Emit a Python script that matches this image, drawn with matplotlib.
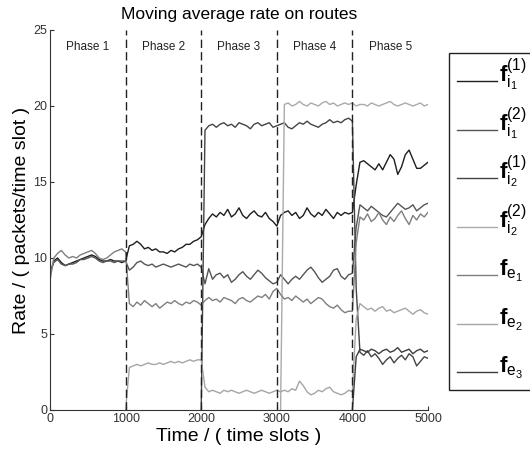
import numpy as np
import matplotlib
matplotlib.use('Agg')
import matplotlib.pyplot as plt
from matplotlib.lines import Line2D
from matplotlib.patches import Rectangle

plt.rcParams['font.family'] = ['Liberation Sans', 'DejaVu Sans']
plt.rcParams['mathtext.fontset'] = 'custom'
plt.rcParams['mathtext.rm'] = 'Liberation Sans'
plt.rcParams['mathtext.bf'] = 'Liberation Sans:bold'
plt.rcParams['mathtext.it'] = 'Liberation Sans'

nan = np.nan

# time grid (time slots), one sample every 50 slots
t = list(range(0, 5001, 50))

# moving average rate per route
# rows: phase 1 (0-950), phase 2 (1000-1950), phase 3, phase 4, phase 5 (4000-5000)
f_i1_1 = [9.0, 9.8, 10.0, 9.7, 9.5, 9.6, 9.7, 9.8, 9.9, 10.0, 10.1, 10.2, 10.1, 9.9, 9.8, 9.8, 9.9, 9.8, 9.8, 9.7,
          9.8, 10.8, 10.9, 11.1, 10.9, 10.6, 10.7, 10.5, 10.6, 10.4, 10.4, 10.3, 10.5, 10.4, 10.6, 10.7, 10.9, 10.9, 11.1, 11.2,
          11.4, 12.2, 12.6, 12.9, 12.7, 13.0, 12.8, 13.2, 12.7, 12.9, 13.3, 12.8, 12.6, 12.9, 13.1, 12.8, 12.7, 13.0, 12.6, 12.4,
          12.1, 12.8, 13.0, 13.1, 12.8, 13.0, 12.6, 12.8, 13.3, 12.9, 12.7, 13.0, 12.8, 13.2, 12.9, 12.6, 13.0, 12.8, 13.0, 12.9,
          13.0, 14.8, 16.3, 16.4, 16.2, 16.0, 15.8, 16.2, 15.8, 16.3, 16.8, 16.5, 15.5, 16.0, 16.8, 17.1, 16.5, 15.9, 15.9, 16.1, 16.3]

f_i1_2 = [9.0, 9.7, 9.9, 9.6, 9.5, 9.6, 9.6, 9.7, 9.9, 9.9, 10.0, 10.1, 10.0, 9.8, 9.7, 9.8, 9.8, 9.7, 9.8, 9.8,
          9.8, 9.2, 9.4, 9.7, 9.8, 9.6, 9.5, 9.6, 9.4, 9.5, 9.6, 9.5, 9.4, 9.5, 9.6, 9.5, 9.4, 9.6, 9.5, 9.6,
          9.4, 8.3, 9.3, 8.6, 8.9, 9.0, 8.7, 8.9, 8.4, 8.6, 8.9, 9.1, 8.8, 8.6, 8.9, 9.2, 9.0, 8.7, 8.5, 8.3,
          8.4, 8.9, 8.6, 8.3, 8.6, 8.8, 8.6, 8.9, 9.2, 9.4, 9.1, 8.7, 8.4, 8.6, 8.8, 9.2, 9.3, 8.8, 8.6, 8.9,
          9.0, 12.0, 13.5, 13.3, 13.1, 13.4, 13.2, 13.0, 12.8, 12.7, 13.0, 13.3, 13.6, 13.4, 13.2, 13.3, 13.5, 13.1, 13.3, 13.5, 13.6]

f_i2_1 = [nan] * 40 + \
         [0.0, 18.4, 18.7, 18.8, 18.6, 18.8, 18.9, 18.7, 18.8, 18.6, 18.9, 18.8, 18.7, 18.5, 18.8, 18.9, 18.7, 18.8, 18.9, 18.6,
          18.7, 18.8, 18.9, 18.6, 18.5, 18.7, 18.9, 18.8, 19.0, 18.8, 18.7, 18.6, 18.8, 18.9, 19.1, 18.9, 19.0, 18.9, 19.1, 19.2,
          19.0, 8.0, 3.8, 3.6, 3.9, 3.5, 3.7, 3.4, 3.0, 3.3, 3.5, 3.1, 3.4, 3.6, 3.3, 3.7, 3.5, 2.9, 3.2, 3.5, 3.4]

f_i2_2 = [nan] * 61 + \
         [0.0, 20.1, 20.2, 20.0, 20.1, 20.3, 20.1, 20.0, 20.2, 20.1, 20.0, 20.2, 20.3, 20.1, 20.2, 20.0, 20.1, 20.2, 20.1,
          20.2, 20.0, 20.1, 20.1, 20.0, 20.2, 20.1, 20.0, 20.1, 20.2, 20.3, 20.1, 20.0, 20.1, 20.2, 20.1, 20.0, 20.1, 20.2, 20.0, 20.1]

f_e1 = [8.5, 10.0, 10.3, 10.5, 10.2, 10.0, 10.1, 10.0, 10.2, 10.3, 10.4, 10.5, 10.3, 10.0, 9.9, 10.0, 10.2, 10.4, 10.5, 10.6,
        10.4, 7.0, 6.8, 7.1, 6.9, 7.2, 7.0, 6.8, 7.0, 6.7, 6.9, 7.1, 7.0, 7.2, 7.0, 6.9, 7.1, 7.0, 7.2, 7.1,
        6.9, 7.2, 7.4, 7.2, 7.3, 7.1, 7.4, 7.3, 7.2, 7.0, 7.3, 7.4, 7.2, 7.1, 7.3, 7.5, 7.4, 7.6, 7.3, 7.8,
        8.0, 7.6, 7.3, 7.4, 7.2, 7.5, 7.3, 7.1, 7.3, 7.0, 7.2, 7.4, 7.3, 7.0, 6.8, 6.7, 6.9, 6.6, 6.4, 6.5,
        6.5, 11.0, 12.7, 12.5, 12.9, 12.4, 12.6, 13.0, 12.5, 12.2, 12.7, 12.4, 12.8, 13.1, 12.6, 12.2, 12.8, 12.5, 12.9, 12.7, 13.0]

f_e2 = [nan] * 20 + \
       [0.0, 2.8, 2.9, 3.0, 2.9, 3.0, 3.1, 3.0, 3.0, 3.1, 3.0, 3.1, 3.2, 3.1, 3.2, 3.1, 3.2, 3.3, 3.2, 3.3,
        3.3, 1.5, 1.2, 1.3, 1.2, 1.1, 1.3, 1.2, 1.3, 1.2, 1.1, 1.2, 1.3, 1.2, 1.1, 1.2, 1.3, 1.2, 1.1, 1.2,
        1.3, 1.2, 1.3, 1.2, 1.4, 1.3, 1.9, 1.6, 1.2, 1.0, 1.1, 1.3, 1.2, 1.4, 1.5, 1.2, 1.1, 1.0, 1.1, 1.3,
        1.2, 6.0, 7.0, 6.8, 6.6, 6.7, 6.5, 6.7, 6.8, 6.5, 6.6, 6.4, 6.5, 6.6, 6.7, 6.5, 6.3, 6.5, 6.6, 6.4, 6.3]

f_e3 = [nan] * 80 + \
       [0.0, 3.5, 4.0, 3.9, 3.8, 4.0, 3.9, 3.7, 3.9, 4.0, 3.8, 3.9, 4.1, 3.8, 3.9, 4.0, 3.7, 3.9, 4.0, 3.8, 3.9]

labels = [r'$\mathbf{f}_{i_1}^{(1)}$', r'$\mathbf{f}_{i_1}^{(2)}$', r'$\mathbf{f}_{i_2}^{(1)}$',
          r'$\mathbf{f}_{i_2}^{(2)}$', r'$\mathbf{f}_{e_1}$', r'$\mathbf{f}_{e_2}$', r'$\mathbf{f}_{e_3}$']
colors = ['#1e1e1e', '#555555', '#444444', '#aaaaaa', '#7f7f7f', '#a5a5a5', '#3c3c3c']
series = [f_i1_1, f_i1_2, f_i2_1, f_i2_2, f_e1, f_e2, f_e3]

phase_bounds = [1000, 2000, 3000, 4000]
phase_names = ['Phase 1', 'Phase 2', 'Phase 3', 'Phase 4', 'Phase 5']
phase_centers = [500, 1500, 2500, 3500, 4500]

W, H = 530, 455
fig = plt.figure(figsize=(W / 100, H / 100), dpi=100)
ax = fig.add_axes([50 / W, 45 / H, 378 / W, 380 / H])

for y, c, lab in zip(series, colors, labels):
    ax.plot(t, y, color=c, lw=1.0, label=lab)

for b in phase_bounds:
    ax.plot([b, b], [0, 25], color='#222222', lw=1.0, ls=(0, (6, 3)))

for xc, name in zip(phase_centers, phase_names):
    ax.text(xc, 23.9, name, ha='center', va='center', fontsize=8.5, color='#222222')

ax.set_xlim(0, 5000)
ax.set_ylim(0, 25)
ax.set_xticks([0, 1000, 2000, 3000, 4000, 5000])
ax.set_yticks([0, 5, 10, 15, 20, 25])
ax.tick_params(direction='in', length=3, labelsize=9, colors='#333333', pad=2)
ax.spines['top'].set_visible(False)
ax.spines['right'].set_visible(False)
for s in ['left', 'bottom']:
    ax.spines[s].set_color('#333333')
    ax.spines[s].set_linewidth(0.8)

ax.set_title('Moving average rate on routes', fontsize=12.5, pad=8)
ax.set_xlabel('Time / ( time slots )', fontsize=14, labelpad=2)
ax.set_ylabel('Rate / ( packets/time slot )', fontsize=14, labelpad=2)

# legend drawn by hand so every row gets the same height;
# the box runs past the right edge of the figure, as in the original
fig.add_artist(Rectangle((449 / W, 1 - 390 / H), 100 / W, 337 / H, transform=fig.transFigure,
                         facecolor='white', edgecolor='#222222', lw=1.0))
for k, (c, lab) in enumerate(zip(colors, labels)):
    yl = 1 - (81 + 48.5 * k) / H
    fig.add_artist(Line2D([457 / W, 497 / W], [yl, yl], transform=fig.transFigure, color=c, lw=1.0))
    fig.text(499 / W, yl - 1 / H, lab, fontsize=16, ha='left', va='baseline')

fig.savefig('out.png', dpi=100)
